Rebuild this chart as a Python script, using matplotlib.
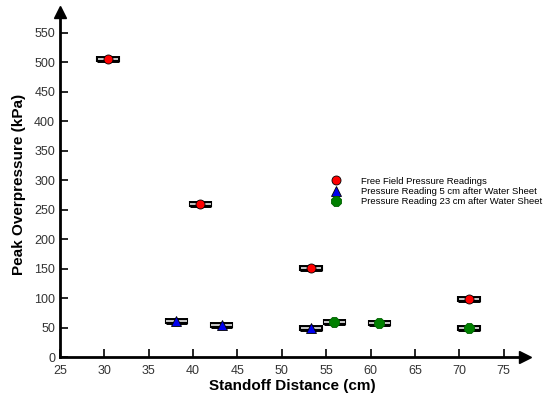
import matplotlib
matplotlib.use("Agg")
import matplotlib.pyplot as plt
import numpy as np

plt.rcParams["font.family"] = ["Liberation Sans", "DejaVu Sans"]

# data
free_x = [30.4, 40.8, 53.3, 71.1]
free_y = [505, 260, 151, 99]
sheet5_x = [38.1, 43.2, 53.3]
sheet5_y = [61, 55, 49]
sheet23_x = [55.9, 61.0, 71.1]
sheet23_y = [59, 58, 49]
x_err = 1.2

fig = plt.figure(figsize=(5.47, 3.94), dpi=100)
ax = fig.add_axes([60 / 547, 37 / 394, 465 / 547, 345 / 394])
ax.set_xlim(25, 77.4)
ax.set_ylim(0, 585)


def bars(xs, ys):
    # double-line horizontal error bars
    ax.errorbar(xs, ys, xerr=x_err, fmt="none", ecolor="black", elinewidth=5,
                capsize=2.5, capthick=1.5, zorder=2)
    ax.errorbar(xs, ys, xerr=x_err * 0.97, fmt="none", ecolor="#d8d8d8",
                elinewidth=1.3, capsize=0, zorder=2.5)


bars(free_x, free_y)
bars(sheet5_x, sheet5_y)
bars(sheet23_x, sheet23_y)

ax.plot(free_x, free_y, "o", color="red", mec="black", mew=0.6, ms=6.5,
        zorder=3, label="Free Field Pressure Readings")
ax.plot(sheet5_x, sheet5_y, "^", color="#0000ee", mec="black", mew=0.6, ms=6.5,
        zorder=3, label="Pressure Reading 5 cm after Water Sheet")
ax.plot(sheet23_x, sheet23_y, "8", color="#008000", mec="#006000", mew=0.6,
        ms=7.5, zorder=3, label="Pressure Reading 23 cm after Water Sheet")

for s in ["top", "right"]:
    ax.spines[s].set_visible(False)
for s in ["left", "bottom"]:
    ax.spines[s].set_linewidth(2)

ax.plot(1, 0, ">", color="black", ms=9, transform=ax.transAxes, clip_on=False)
ax.plot(0, 1, "^", color="black", ms=9, transform=ax.transAxes, clip_on=False)

ax.set_xticks(np.arange(25, 80, 5))
ax.set_yticks(np.arange(0, 600, 50))
ax.tick_params(axis="both", direction="in", length=6, width=1.2,
               labelsize=9, labelcolor="#333333")
ax.tick_params(axis="x", pad=6)

ax.set_xlabel("Standoff Distance (cm)", fontsize=11, fontweight="bold", labelpad=1)
ax.set_ylabel("Peak Overpressure (kPa)", fontsize=11, fontweight="bold", labelpad=6)

ax.legend(loc="upper left", bbox_to_anchor=(376 / 547 - 60 / 547 - 0.005, 1 - (172 - 12) / 345),
          frameon=False, fontsize=6.8, handletextpad=2.1, labelspacing=0.12,
          handlelength=1.1, borderpad=0, numpoints=1)

fig.savefig("out.png", dpi=100, facecolor="white")
